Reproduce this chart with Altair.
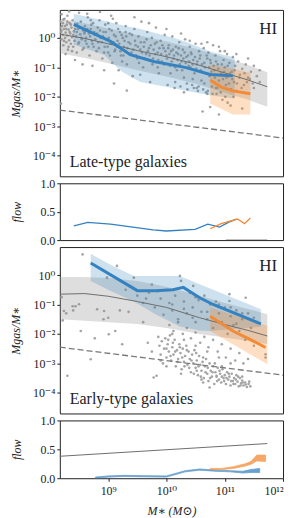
import altair as alt
import numpy as np
import pandas as pd

FONT = "Liberation Serif, DejaVu Serif, serif"
XMIN, XMAX = 10 ** 8.17, 1e12
YMIN, YMAX = 10 ** -4.7, 10 ** 0.95

# ---------------- data (log10 values) ----------------
# Late-type galaxies: scatter (log M*, log Mgas/M*)
lt_px = [8.18, 8.19, 8.2, 8.21, 8.22, 8.23, 8.24, 8.25, 8.26, 8.27, 8.28, 8.29, 8.3, 8.31, 8.32, 8.33, 8.34, 8.35,
         8.36, 8.37, 8.38, 8.39, 8.4, 8.41, 8.42, 8.44, 8.45, 8.46, 8.48, 8.5, 8.52, 8.53, 8.55, 8.57, 8.58, 8.6,
         8.62, 8.63, 8.65, 8.67, 8.68, 8.7, 8.72, 8.74, 8.75, 8.77, 8.8, 8.82, 8.83, 8.85, 8.87, 8.9, 8.92, 8.94,
         8.95, 8.97, 9.0, 9.02, 9.04, 9.05, 9.07, 9.1, 9.12, 9.14, 9.16, 9.18, 9.2, 9.22, 9.25, 9.27, 9.3, 9.32,
         9.35, 9.37, 9.4, 9.42, 9.45, 9.47, 9.5, 9.52, 9.55, 9.57, 9.6, 9.62, 9.65, 9.67, 9.7, 9.72, 9.75, 9.77,
         9.8, 9.82, 9.85, 9.87, 9.9, 9.92, 9.95, 9.97, 10.0, 10.02, 10.04, 10.06, 10.08, 10.1, 10.12, 10.14,
         10.16, 10.18, 10.2, 10.22, 10.24, 10.26, 10.28, 10.3, 10.32, 10.34, 10.36, 10.38, 10.4, 10.42, 10.44,
         10.46, 10.48, 10.5, 10.52, 10.54, 10.56, 10.58, 10.6, 10.62, 10.64, 10.66, 10.68, 10.7, 10.72, 10.74,
         10.76, 10.78, 10.8, 10.82, 10.84, 10.86, 10.88, 10.9, 10.92, 10.94, 10.96, 10.98, 11.0, 11.02, 11.04,
         11.06, 11.08, 11.1, 11.12, 11.14, 11.16, 11.18, 11.2, 11.23, 11.26, 11.3, 11.33, 11.36, 11.4, 11.45,
         11.5, 11.55, 11.6,
         8.2, 8.3, 8.5, 8.6, 8.7, 8.8, 9.0, 9.3, 9.45, 9.7, 10.0, 10.25, 10.4, 10.6, 10.7, 10.9, 11.2, 11.4,
         11.5, 11.6, 11.0, 8.19, 9.32, 9.1, 10.9, 11.3, 10.75, 11.05, 8.23, 8.27, 8.33, 8.43, 8.47, 8.56, 8.64,
         8.73, 8.86, 8.93, 9.08, 9.24, 9.55, 9.85, 10.15, 10.45, 10.65, 10.85, 11.15, 10.3, 10.52, 10.7]
lt_py = [0.55, 0.2, -0.05, 0.4, 0.1, -0.25, 0.3, 0.65, 0.0, 0.18, -0.15, 0.45, 0.08, -0.4, 0.28, -0.08, 0.5, 0.15,
         -0.2, 0.35, 0.02, 0.6, -0.3, 0.22, -0.1, 0.42, 0.05, -0.5, 0.3, -0.15, 0.12, 0.55, -0.05, 0.25, -0.35, 0.4,
         0.0, -0.2, 0.7, 0.15, -0.6, 0.3, -0.1, 0.5, -0.3, 0.1, -0.45, 0.35, -0.15, 0.6, 0.0, -0.7, 0.2, -0.3,
         0.45, -0.05, -0.5, 0.3, -0.2, 0.75, -0.85, 0.1, -0.4, 0.5, -0.1, -1.1, 0.2, -0.6, 0.0, -0.3, 0.4, -0.9,
         -0.15, 0.15, -0.5, -1.3, 0.3, -0.25, -0.7, 0.05, -0.4, 0.55, -1.0, -0.15, -0.55, 0.2, -0.35, -1.5, 0.0, -0.7,
         -0.2, 0.35, -0.5, -1.2, -0.1, -0.8, -0.35, 0.1, -0.6, -1.6, -0.25, -0.95, -0.45, 0.05, -0.7, -1.7,
         -0.3, -1.1, -0.55, -0.15, -1.65, -0.8, -0.4, -1.35, -0.05, -0.65, -1.75, -0.95, -0.3, -0.5, -1.6,
         -0.75, -1.2, -0.2, -0.9, -1.8, -0.45, -0.6, -1.45, -2.5, -0.35, -1.0, -1.85, -0.7, -0.5, -1.3,
         -0.85, -1.65, -0.25, -1.1, -0.6, -1.9, -0.9, -1.45, -0.45, -1.2, -2.1, -0.75, -1.0, -1.6, -0.55,
         -1.3, -0.85, -2.3, -1.15, -0.65, -1.5, -0.95, -1.8, -0.8, -1.25, -1.05, -1.6, -0.9, -1.35, -1.15,
         -1.7, -1.3, -1.5,
         0.8, 0.75, 0.85, 0.2, 0.6, 0.1, 0.5, 0.2, 0.7, 0.5, 0.3, 0.15, -0.1, -0.2, -0.15, -0.3, -0.55, -0.7,
         -0.95, -1.1, -0.45, -2.23, -1.79, -1.55, -2.6, -2.4, -2.35, -2.2, 0.62, -0.55, 0.9, -0.75, 0.48, -0.9,
         0.82, -0.95, 0.88, -1.1, 0.65, -0.8, -1.25, -1.0, -1.5, -1.4, -1.55, -1.7, -2.0, -1.85, -1.7, -1.9]
# second batch of late-type points (dense core)
lt_px2 = [8.18, 8.2, 8.22, 8.24, 8.26, 8.28, 8.3, 8.32, 8.34, 8.36, 8.38, 8.4, 8.43, 8.46, 8.49, 8.51, 8.54, 8.56,
          8.59, 8.61, 8.64, 8.66, 8.69, 8.71, 8.73, 8.76, 8.78, 8.81, 8.84, 8.86, 8.89, 8.91, 8.93, 8.96, 8.99,
          9.01, 9.03, 9.06, 9.09, 9.11, 9.13, 9.15, 9.17, 9.19, 9.21, 9.23, 9.26, 9.28, 9.31, 9.33, 9.36, 9.38,
          9.41, 9.43, 9.46, 9.48, 9.51, 9.53, 9.56, 9.58, 9.61, 9.63, 9.66, 9.68, 9.71, 9.73, 9.76, 9.78, 9.81,
          9.83, 9.86, 9.88, 9.91, 9.93, 9.96, 9.98, 10.01, 10.03, 10.05, 10.07, 10.09, 10.11, 10.13, 10.15,
          10.17, 10.19, 10.21, 10.23, 10.25, 10.27, 10.29, 10.31, 10.33, 10.35, 10.37, 10.39, 10.41, 10.43,
          10.45, 10.47, 10.49, 10.51, 10.53, 10.55, 10.57, 10.59, 10.61, 10.63, 10.65, 10.67, 10.69, 10.71,
          10.73, 10.75, 10.77, 10.79, 10.81, 10.83, 10.85, 10.87, 10.89, 10.91, 10.93, 10.95, 10.97, 10.99,
          11.01, 11.03, 11.05, 11.07, 11.09, 11.11, 11.13, 11.17, 11.21, 11.25, 11.29, 11.34, 11.38, 11.43, 11.48]
lt_py2 = [0.35, 0.25, 0.5, -0.1, 0.4, 0.3, 0.55, -0.3, 0.2, 0.45, -0.45, 0.1, 0.3, 0.2, -0.2, 0.35, 0.0, -0.4,
          0.15, -0.1, 0.3, -0.3, 0.05, 0.45, -0.2, 0.2, -0.05, 0.15, -0.35, 0.25, -0.15, 0.05, -0.5, 0.2, -0.3,
          0.0, -0.6, 0.25, -0.15, -0.45, 0.05, -0.3, 0.3, -0.2, -0.45, 0.1, -0.6, -0.1, 0.05, -0.35, -0.55, -0.2,
          0.1, -0.4, -0.1, -0.6, -0.3, -0.85, -0.15, -0.5, -0.3, -0.7, -0.05, -0.45, -0.6, -0.25, -0.9, -0.4, -0.55,
          -0.15, -0.75, -0.35, -0.55, -0.25, -0.9, -0.45, -0.7, -0.35, -0.55, -1.2, -0.8, -0.4, -0.6, -1.0,
          -0.5, -0.75, -0.35, -0.9, -0.6, -1.1, -0.7, -0.5, -0.85, -1.55, -0.6, -0.8, -1.0, -0.55,
          -0.9, -1.7, -0.65, -1.05, -0.8, -1.65, -0.7, -1.1, -0.9, -1.75, -0.85, -1.2, -0.6, -1.8,
          -1.0, -0.75, -1.15, -1.9, -0.95, -1.35, -0.8, -1.7, -1.05, -1.25, -1.85, -0.9, -1.4, -1.15,
          -2.0, -1.35, -0.95, -1.55, -1.2, -1.75, -1.4, -1.1, -1.55, -1.35, -1.7, -1.2, -1.5, -1.4, -1.55]

# Early-type galaxies: scatter (log M*, log Mgas/M*)
et_px = [8.56, 8.24, 8.22, 8.5, 8.81, 8.92, 9.15, 8.98, 9.44, 9.75, 10.23, 10.25, 10.46, 11.08, 11.08, 11.36,
         9.3, 9.5, 9.6, 9.7, 9.8, 9.9, 9.95, 10.0, 10.05, 10.1, 10.15, 10.2, 10.3, 10.35, 10.4, 10.45, 10.5, 10.55,
         10.6, 10.65, 10.7, 10.75, 10.8, 10.85, 10.9, 10.95, 11.0, 11.05, 11.1, 11.15, 11.2, 11.25, 11.3, 11.35,
         11.4, 11.45, 11.5, 11.55, 11.7, 11.7, 9.12, 8.53, 8.7, 8.3, 9.78, 8.4, 9.0, 9.2, 9.35, 9.6, 9.68, 9.75,
         8.77, 9.01, 9.24, 8.39, 8.44, 8.93, 8.2, 8.28,
         9.86, 9.88, 9.9, 9.92, 9.94, 9.96, 9.98, 10.0, 10.02, 10.04, 10.06, 10.08, 10.1, 10.12, 10.14, 10.16,
         10.18, 10.2, 10.22, 10.24, 10.26, 10.28, 10.3, 10.32, 10.34, 10.36, 10.38, 10.4, 10.42, 10.44, 10.46,
         10.48, 10.5, 10.52, 10.54, 10.56, 10.58, 10.6, 10.62, 10.64, 10.66, 10.68, 10.7, 10.72, 10.74, 10.76,
         10.78, 10.8, 10.82, 10.84, 10.86, 10.88, 10.9, 10.92, 10.94, 10.96, 10.98, 11.0, 11.02, 11.04, 11.06,
         11.08, 11.1, 11.12, 11.14, 11.16, 11.18, 11.2, 11.22, 11.24, 11.26, 11.28, 11.3, 11.32, 11.35, 11.38,
         11.41, 11.44,
         10.05, 10.12, 10.2, 10.28, 10.35, 10.42, 10.5, 10.58, 10.65, 10.72, 10.8, 10.88, 10.95, 11.02, 11.1,
         11.18, 11.25, 11.32, 11.4, 9.83, 10.52, 10.86, 10.74, 10.63, 9.9, 10.0, 10.25, 10.6, 10.95, 11.3,
         10.0, 10.03, 10.07, 10.11, 10.15, 10.19, 10.23, 10.27, 10.31, 10.35, 10.39, 10.43, 10.47, 10.51, 10.55,
         10.59, 10.63, 10.67, 10.71, 10.75, 10.79, 10.83, 10.87, 10.91, 10.95, 10.99, 11.03, 11.07, 11.11, 11.15,
         11.19, 11.23, 11.27, 11.31, 11.36, 11.42, 10.1, 10.3, 10.5, 10.7, 10.9, 11.1,
         10.1, 10.3, 10.5, 10.7, 10.9, 11.1, 11.3, 11.5, 10.45, 10.85, 11.2, 9.65, 9.85]
et_py = [0.70, -1.22, -1.54, -0.99, -1.16, -1.5, 0.31, -0.09, -0.09, -0.32, -0.03, -0.2, -0.37, -0.65, -0.88, -0.77,
         -0.5, -0.7, -0.95, -0.6, -1.1, -0.8, -1.35, -0.5, -0.95, -1.2, -0.7, -1.5, -0.9, -1.3, -0.6, -1.1, -1.6, -0.85,
         -1.25, -0.7, -1.5, -1.0, -1.8, -0.9, -1.3, -1.6, -1.1, -2.0, -1.4, -1.7, -1.2, -1.9, -1.5, -2.2,
         -1.3, -1.8, -2.4, -1.6, -2.69, -2.8, -1.9, -1.9, -2.86, -3.42, -3.48, -1.2, -1.45, -1.2, -1.25, -1.6, -2.3, -2.6,
         -2.15, -2.01, -2.35, -1.06, -1.06, -1.22, -0.75, -1.3,
         -2.1, -2.4, -2.7, -2.25, -3.0, -2.5, -2.15, -2.8, -2.35, -2.6, -2.05, -2.9, -2.45, -2.7, -2.2, -3.1,
         -2.55, -2.85, -2.35, -2.65, -3.2, -2.5, -2.95, -2.75, -2.4, -3.05, -2.6, -2.85, -3.3, -2.7, -3.0,
         -2.55, -3.15, -2.9, -3.4, -2.75, -3.05, -3.25, -2.95, -3.5, -3.1, -2.85, -3.35, -3.6, -3.0, -3.25,
         -3.45, -3.1, -3.7, -3.3, -3.45, -3.15, -3.55, -3.35, -3.65, -3.2, -3.5, -3.4, -3.7, -3.3, -3.55,
         -3.45, -3.75, -3.35, -3.6, -3.5, -3.7, -3.4, -3.62, -3.78, -3.5, -3.68, -3.58, -3.75, -3.65, -3.8,
         -3.7, -3.78,
         -1.7, -1.9, -1.6, -2.0, -1.8, -2.15, -1.95, -2.3, -2.1, -2.45, -2.2, -2.6, -2.35, -2.8, -2.5,
         -2.9, -2.65, -3.0, -2.85, -3.42, -3.25, -3.42, -3.82, -3.65, -2.9, -3.1, -3.35, -3.55, -3.1, -3.45,
         -2.5, -2.2, -2.75, -2.3, -2.6, -2.95, -2.45, -2.8, -3.1, -2.55, -3.15, -2.9, -3.35, -2.65, -3.1,
         -3.45, -2.8, -3.3, -3.15, -3.5, -3.3, -3.0, -3.6, -3.25, -3.45, -3.6, -3.5, -3.35, -3.6, -3.7,
         -3.55, -3.45, -3.75, -3.65, -3.72, -3.62, -2.0, -2.2, -2.4, -2.6, -2.8, -3.0,
         -1.0, -1.15, -0.75, -1.25, -1.0, -1.1, -1.3, -1.45, -1.45, -1.55, -1.65, -0.8, -0.55]

# Reference dashed line (both panels)
dash_x = [8.17, 12.0]
dash_y = [-2.45, -3.4]

# Late-type: gray (all) band and median
lt_gray_x = [8.17, 8.6, 9.0, 9.5, 10.0, 10.5, 11.0, 11.4, 11.73]
lt_gray_mid = [0.13, -0.02, -0.2, -0.43, -0.64, -0.89, -1.19, -1.43, -1.66]
lt_gray_hi = [0.65, 0.5, 0.32, 0.1, -0.12, -0.37, -0.67, -0.92, -1.17]
lt_gray_lo = [-0.52, -0.68, -0.86, -1.1, -1.31, -1.56, -1.86, -2.1, -2.34]
# Late-type: blue band and median
lt_blue_bx = [8.41, 8.93, 9.15, 9.24, 9.55, 10.15, 10.35, 10.75, 11.17]
lt_blue_hi = [0.82, 0.58, 0.47, 0.43, 0.3, -0.01, -0.15, -0.46, -0.67]
lt_blue_lo = [-0.23, -0.57, -1.0, -1.15, -1.5, -1.72, -1.8, -1.95, -2.07]
lt_blue_x = [8.41, 9.04, 9.38, 9.78, 10.32, 10.75, 11.14]
lt_blue_y = [0.46, -0.12, -0.57, -0.8, -1.0, -1.24, -1.29]
# Late-type: orange band and median
lt_or_bx = [10.75, 11.14, 11.44]
lt_or_hi = [-0.9, -1.05, -1.18]
lt_or_lo = [-2.23, -2.6, -2.6]
lt_or_x = [10.75, 10.95, 11.14, 11.44]
lt_or_y = [-1.43, -1.68, -1.8, -1.9]

# Early-type: gray band and median
et_gray_x = [8.17, 8.6, 9.0, 9.5, 10.0, 10.57, 11.0, 11.4, 11.73]
et_gray_mid = [-0.65, -0.63, -0.72, -0.9, -1.1, -1.45, -1.68, -1.88, -2.07]
et_gray_hi = [-0.07, -0.07, -0.1, -0.2, -0.4, -0.7, -0.95, -1.15, -1.33]
et_gray_lo = [-1.5, -1.55, -1.6, -1.66, -1.8, -2.0, -2.12, -2.24, -2.34]
# Early-type: blue band and median
et_blue_bx = [8.7, 9.04, 9.44, 9.82, 10.23, 10.57, 10.75, 11.62]
et_blue_hi = [0.72, 0.35, -0.03, -0.03, -0.03, -0.31, -0.46, -1.16]
et_blue_lo = [-0.2, -0.54, -0.9, -1.34, -1.75, -1.88, -1.9, -1.76]
et_blue_x = [8.7, 9.5, 9.82, 10.11, 10.29, 10.57, 10.8, 11.62]
et_blue_y = [0.41, -0.53, -0.53, -0.5, -0.42, -0.77, -1.0, -1.66]
# Early-type: orange band and median
et_or_bx = [10.75, 11.14, 11.73]
et_or_hi = [-1.1, -1.35, -1.72]
et_or_lo = [-1.9, -2.35, -3.03]
et_or_x = [10.75, 11.14, 11.45, 11.7]
et_or_y = [-1.4, -1.9, -2.2, -2.46]

# f_low panels
f1_blue_x = [8.41, 8.65, 9.04, 9.77, 10.0, 10.49, 10.71, 10.91, 11.08, 11.2]
f1_blue_y = [0.25, 0.31, 0.28, 0.18, 0.16, 0.19, 0.28, 0.23, 0.32, 0.37]
f1_or_x = [10.75, 10.94, 11.22, 11.34, 11.44]
f1_or_y = [0.2, 0.29, 0.37, 0.29, 0.39]
f1_gray_x = [11.02, 11.73]
f1_gray_lo = [0.0, 0.0]
f1_gray_hi = [0.02, 0.02]

f2_gray_x = [8.17, 11.73]
f2_gray_y = [0.38, 0.6]
f2_blue_x = [8.78, 9.0, 9.27, 9.6, 10.0, 10.32, 10.57, 10.85, 11.1, 11.31, 11.45, 11.6]
f2_blue_lo = [0.0, 0.02, 0.03, 0.025, 0.02, 0.11, 0.14, 0.12, 0.11, 0.09, 0.1, 0.1]
f2_blue_hi = [0.02, 0.04, 0.05, 0.045, 0.04, 0.13, 0.16, 0.14, 0.13, 0.12, 0.15, 0.17]
f2_or_x = [10.75, 10.95, 11.15, 11.35, 11.45, 11.55, 11.7]
f2_or_lo = [0.15, 0.15, 0.17, 0.21, 0.24, 0.3, 0.29]
f2_or_hi = [0.17, 0.17, 0.2, 0.25, 0.29, 0.4, 0.4]

# ---------------- helpers ----------------
P = lambda v: [10 ** a for a in v]

GRAY_PT = "#a0a0a0"
BLUE = "#1f77b4"
BLUE_LINE = "#3582c0"
ORANGE = "#ff7f0e"
ORANGE_LINE = "#f38a35"
GRAY_LINE = "#6e6e6e"

YLAB = "['10⁻⁴','10⁻³','10⁻²','10⁻¹','10⁰','10¹'][round(log(datum.value)/LN10)+4]"
XLAB = "['10⁸','10⁹','10¹⁰','10¹¹','10¹²'][round(log(datum.value)/LN10)-8]"


def xenc(bottom=False):
    sc = alt.Scale(type="log", domain=[XMIN, XMAX], nice=False)
    if bottom:
        ax = alt.Axis(values=[1e9, 1e10, 1e11, 1e12], labelExpr=XLAB, title="M∗ (M⊙)",
                      titleFontStyle="italic", labelPadding=4, titlePadding=9, grid=False)
        return alt.X("x:Q", scale=sc, axis=ax)
    return alt.X("x:Q", scale=sc, axis=None)


def ylog():
    return alt.Y("y:Q", scale=alt.Scale(type="log", domain=[YMIN, YMAX], nice=False),
                 axis=alt.Axis(values=[1e-4, 1e-3, 1e-2, 1e-1, 1], labelExpr=YLAB,
                               title="Mgas/M∗", titleFontStyle="italic", titlePadding=10, grid=False))


def ylin():
    return alt.Y("y:Q", scale=alt.Scale(domain=[0, 1], nice=False),
                 axis=alt.Axis(values=[0, 0.5, 1], format=".1f", title="flow",
                               titleFontStyle="italic", titlePadding=16, grid=False))


def df_line(xs, ys, log=True):
    return pd.DataFrame({"x": P(xs), "y": P(ys) if log else ys})


def df_band(xs, lo, hi, log=True):
    return pd.DataFrame({"x": P(xs), "y": P(lo) if log else lo, "y2": P(hi) if log else hi})


def scatter_panel(px, py, gx, glo, ghi, gmid, bbx, blo, bhi, bx, by, obx, olo, ohi, ox, oy, label, h):
    X = xenc()
    Y = ylog()
    pts = alt.Chart(df_line(px, py)).mark_circle(size=7, color=GRAY_PT, opacity=0.95, clip=True).encode(x=X, y=Y)
    gband = alt.Chart(df_band(gx, glo, ghi)).mark_area(color="#8a8a8a", opacity=0.28, clip=True).encode(
        x=X, y=Y, y2="y2:Q")
    bband = alt.Chart(df_band(bbx, blo, bhi)).mark_area(color=BLUE, opacity=0.22, clip=True).encode(
        x=X, y=Y, y2="y2:Q")
    oband = alt.Chart(df_band(obx, olo, ohi)).mark_area(color=ORANGE, opacity=0.25, clip=True).encode(
        x=X, y=Y, y2="y2:Q")
    gline = alt.Chart(df_line(gx, gmid)).mark_line(color=GRAY_LINE, strokeWidth=1, clip=True).encode(x=X, y=Y)
    bline = alt.Chart(df_line(bx, by)).mark_line(color=BLUE_LINE, strokeWidth=3, clip=True).encode(x=X, y=Y)
    oline = alt.Chart(df_line(ox, oy)).mark_line(color=ORANGE_LINE, strokeWidth=3, clip=True).encode(x=X, y=Y)
    dline = alt.Chart(df_line(dash_x, dash_y)).mark_line(color="#7a7a7a", strokeWidth=1.3, strokeDash=[6, 3],
                                                         clip=True).encode(x=X, y=Y)
    hi_txt = alt.Chart(pd.DataFrame({"t": ["HI"]})).mark_text(
        font=FONT, fontSize=17, align="right", baseline="middle", color="#222").encode(
        text="t:N", x=alt.value(218), y=alt.value(19))
    lab = alt.Chart(pd.DataFrame({"t": [label]})).mark_text(
        font=FONT, fontSize=16, align="left", baseline="alphabetic", color="#222").encode(
        text="t:N", x=alt.value(10), y=alt.value(h - 9))
    return alt.layer(pts, gband, bband, oband, gline, bline, oline, dline, hi_txt, lab).properties(
        width=224, height=h)


H_BIG = 167
top = scatter_panel(lt_px + lt_px2, lt_py + lt_py2, lt_gray_x, lt_gray_lo, lt_gray_hi, lt_gray_mid,
                    lt_blue_bx, lt_blue_lo, lt_blue_hi, lt_blue_x, lt_blue_y,
                    lt_or_bx, lt_or_lo, lt_or_hi, lt_or_x, lt_or_y, "Late-type galaxies", H_BIG)
mid = scatter_panel(et_px, et_py, et_gray_x, et_gray_lo, et_gray_hi, et_gray_mid,
                    et_blue_bx, et_blue_lo, et_blue_hi, et_blue_x, et_blue_y,
                    et_or_bx, et_or_lo, et_or_hi, et_or_x, et_or_y, "Early-type galaxies", H_BIG)

# f_low panel 1
X1 = xenc()
Y1 = ylin()
f1 = alt.layer(
    alt.Chart(df_band(f1_gray_x, f1_gray_lo, f1_gray_hi, log=False)).mark_area(color="#999", opacity=0.6).encode(
        x=X1, y=Y1, y2="y2:Q"),
    alt.Chart(df_line(f1_blue_x, f1_blue_y, log=False)).mark_line(color=BLUE_LINE, strokeWidth=1.3).encode(x=X1, y=Y1),
    alt.Chart(df_line(f1_or_x, f1_or_y, log=False)).mark_line(color=ORANGE_LINE, strokeWidth=1.3).encode(x=X1, y=Y1),
).properties(width=224, height=57)

# f_low panel 2
X2 = xenc(bottom=True)
Y2 = ylin()
f2 = alt.layer(
    alt.Chart(df_line(f2_gray_x, f2_gray_y, log=False)).mark_line(color=GRAY_LINE, strokeWidth=1).encode(x=X2, y=Y2),
    alt.Chart(df_band(f2_blue_x, f2_blue_lo, f2_blue_hi, log=False)).mark_area(
        color=BLUE_LINE, opacity=0.75, stroke=BLUE_LINE, strokeWidth=0.8).encode(x=X2, y=Y2, y2="y2:Q"),
    alt.Chart(df_band(f2_or_x, f2_or_lo, f2_or_hi, log=False)).mark_area(
        color=ORANGE_LINE, opacity=0.75, stroke=ORANGE_LINE, strokeWidth=0.8).encode(x=X2, y=Y2, y2="y2:Q"),
).properties(width=224, height=58)

chart = alt.vconcat(top, f1, mid, f2, spacing=7, bounds="flush").properties(
    padding={"left": 0, "top": 0, "right": 4, "bottom": 0}
).configure_view(stroke="#222", strokeWidth=1).configure_axis(
    labelFont=FONT, titleFont=FONT, labelFontSize=12, titleFontSize=12,
    labelColor="#222", titleColor="#222", domain=False, tickColor="#222", tickSize=3,
    titleFontWeight="normal"
)

chart.save("out.html", embed_options={"renderer": "svg", "actions": False})
